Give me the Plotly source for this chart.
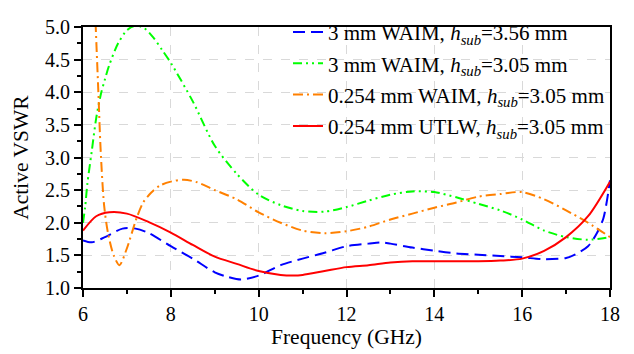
import plotly.graph_objects as go

# ---- data ----
freq_blue = [6.0, 6.2, 6.5, 6.9, 7.2, 7.5, 8.0, 8.5, 9.0, 9.3, 9.6, 10.0, 10.5, 11.0, 11.5, 12.0, 12.5, 12.8, 13.0,
             13.5, 14.0, 14.5, 15.0, 15.5, 16.0, 16.5, 17.0, 17.2, 17.5, 17.7, 17.85, 18.0]
vswr_blue = [1.73, 1.70, 1.78, 1.91, 1.91, 1.84, 1.64, 1.45, 1.24, 1.17, 1.13, 1.19, 1.35, 1.45, 1.54, 1.64, 1.68,
             1.70, 1.68, 1.62, 1.57, 1.53, 1.51, 1.49, 1.47, 1.44, 1.46, 1.51, 1.64, 1.84, 2.07, 2.65]

freq_green = [6.0, 6.05, 6.1, 6.2, 6.3, 6.4, 6.5, 6.6, 6.8, 7.0, 7.2, 7.4, 7.6, 7.8, 8.0, 8.5, 9.0, 9.5, 10.0, 10.5,
              11.0, 11.5, 12.0, 12.5, 13.0, 13.5, 14.0, 14.5, 15.0, 15.5, 16.0, 16.5, 17.0, 17.5, 18.0]
vswr_green = [2.0, 2.25, 2.6, 3.1, 3.6, 3.95, 4.2, 4.42, 4.75, 4.95, 5.02, 4.98, 4.84, 4.65, 4.45, 3.86, 3.18, 2.75,
              2.43, 2.27, 2.18, 2.17, 2.24, 2.34, 2.43, 2.48, 2.47, 2.39, 2.29, 2.19, 2.05, 1.88, 1.78, 1.74, 1.78]

freq_orange = [6.22, 6.29, 6.35, 6.40, 6.48, 6.57, 6.70, 6.83, 6.99, 7.22, 7.37, 7.55, 7.75, 8.0, 8.3, 8.6, 9.0, 9.5,
               10.0, 10.5, 11.0, 11.5, 12.0, 12.5, 13.0, 13.5, 14.0, 14.5, 15.0, 15.5, 16.0, 16.5, 17.0, 17.5, 18.0]
vswr_orange = [6.3, 5.0, 4.0, 3.14, 2.27, 1.84, 1.50, 1.35, 1.59, 2.07, 2.31, 2.46, 2.57, 2.63, 2.66, 2.62, 2.50, 2.36,
               2.16, 2.00, 1.88, 1.84, 1.87, 1.94, 2.05, 2.14, 2.23, 2.31, 2.40, 2.44, 2.47, 2.36, 2.19, 2.00, 1.78]

freq_red = [6.0, 6.3, 6.6, 7.0, 7.5, 8.0, 8.5, 9.0, 9.5, 10.0, 10.5, 10.8, 11.0, 11.5, 12.0, 12.5, 13.0, 13.5, 14.0,
            15.0, 15.5, 16.0, 16.5, 17.0, 17.5, 18.0]
vswr_red = [1.88, 2.10, 2.16, 2.14, 2.01, 1.85, 1.66, 1.48, 1.37, 1.26, 1.20, 1.19, 1.20, 1.26, 1.32, 1.35, 1.39, 1.41,
            1.41, 1.41, 1.42, 1.45, 1.57, 1.78, 2.10, 2.63]

names = ["3 mm WAIM, <i>h</i><sub><i>sub</i></sub>=3.56 mm",
         "3 mm WAIM, <i>h</i><sub><i>sub</i></sub>=3.05 mm",
         "0.254 mm WAIM, <i>h</i><sub><i>sub</i></sub>=3.05 mm",
         "0.254 mm UTLW, <i>h</i><sub><i>sub</i></sub>=3.05 mm"]
colors = ["#0000FF", "#00FF00", "#FF8000", "#FF0000"]
dashes = ["12px,6px", "9px,4px,2px,4px,2px,4px", "10px,4px,2px,4px", "solid"]

x_ticks = [6, 8, 10, 12, 14, 16, 18]
y_ticks = [1.0, 1.5, 2.0, 2.5, 3.0, 3.5, 4.0, 4.5, 5.0]

FONT = "Liberation Serif, Times New Roman, serif"

fig = go.Figure()
series = [(freq_blue, vswr_blue), (freq_green, vswr_green), (freq_orange, vswr_orange), (freq_red, vswr_red)]
for i, (fx, fy) in enumerate(series):
    fig.add_trace(go.Scatter(
        x=fx, y=fy, mode="lines", name=names[i], legendgroup=str(i),
        line=dict(color=colors[i], width=2, dash=dashes[i], shape="spline", smoothing=0.8),
    ))

axis_common = dict(
    showline=True, linecolor="black", linewidth=2, mirror=True,
    ticks="outside", ticklen=7, tickwidth=1.5, tickcolor="black",
    showgrid=True, gridcolor="#d9d9d9", gridwidth=1, griddash="dash",
    zeroline=False,
    tickfont=dict(family=FONT, size=20, color="black"),
)

fig.update_xaxes(
    range=[6, 18], tickvals=x_ticks,
    minor=dict(dtick=1, tick0=6, ticklen=4, ticks="outside", tickcolor="black", showgrid=False),
    title=dict(text="Frequency (GHz)", font=dict(family=FONT, size=21.5, color="black"), standoff=2),
    **axis_common,
)
fig.update_yaxes(
    range=[1.0, 5.0], tickvals=y_ticks, tickformat=".1f",
    minor=dict(dtick=0.25, tick0=1, ticklen=4, ticks="outside", tickcolor="black", showgrid=False),
    title=dict(text="Active VSWR", font=dict(family=FONT, size=21.5, color="black"), standoff=10),
    **axis_common,
)

fig.update_layout(
    width=634, height=354,
    margin=dict(l=83, r=24, t=14, b=63),
    plot_bgcolor="white", paper_bgcolor="white",
    font=dict(family=FONT, size=20, color="black"),
    showlegend=True,
    legend=dict(
        x=1.0, y=1.058, xanchor="right", yanchor="top",
        bgcolor="rgba(255,255,255,0)", borderwidth=0,
        font=dict(family=FONT, size=21, color="black"),
        tracegroupgap=1, itemwidth=30,
    ),
)

fig.write_html("out.html")
